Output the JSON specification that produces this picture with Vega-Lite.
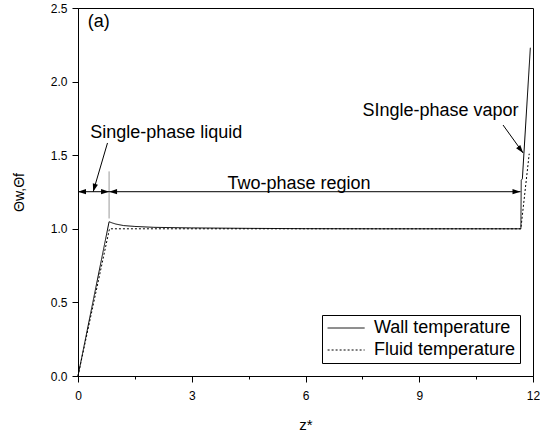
{
  "$schema": "https://vega.github.io/schema/vega-lite/v6.json",
  "width": 455,
  "height": 368,
  "autosize": {"type": "none"},
  "padding": {"left": 78, "top": 8, "right": 7, "bottom": 59},
  "config": {
    "font": "Liberation Sans",
    "view": {"stroke": "#000", "strokeWidth": 1},
    "axis": {
      "grid": false,
      "domainColor": "#000",
      "tickColor": "#000",
      "labelColor": "#000",
      "titleColor": "#000",
      "labelFont": "Liberation Sans",
      "titleFont": "Liberation Sans",
      "labelFontSize": 12,
      "titleFontSize": 14,
      "titleFontWeight": "normal"
    },
    "legend": {"labelFont": "Liberation Sans"}
  },
  "datasets": {
    "curves": [
      {"z": 0.0, "theta": 0.0, "series": "Wall temperature"},
      {"z": 0.82, "theta": 1.048, "series": "Wall temperature"},
      {"z": 0.9, "theta": 1.04, "series": "Wall temperature"},
      {"z": 1.0, "theta": 1.032, "series": "Wall temperature"},
      {"z": 1.2, "theta": 1.022, "series": "Wall temperature"},
      {"z": 1.5, "theta": 1.016, "series": "Wall temperature"},
      {"z": 2.0, "theta": 1.01, "series": "Wall temperature"},
      {"z": 3.0, "theta": 1.006, "series": "Wall temperature"},
      {"z": 4.5, "theta": 1.003, "series": "Wall temperature"},
      {"z": 6.0, "theta": 1.001, "series": "Wall temperature"},
      {"z": 8.0, "theta": 1.0, "series": "Wall temperature"},
      {"z": 11.68, "theta": 1.0, "series": "Wall temperature"},
      {"z": 11.69, "theta": 1.33, "series": "Wall temperature"},
      {"z": 11.72, "theta": 1.34, "series": "Wall temperature"},
      {"z": 11.93, "theta": 2.23, "series": "Wall temperature"},
      {"z": 0.0, "theta": 0.0, "series": "Fluid temperature"},
      {"z": 0.83, "theta": 1.0, "series": "Fluid temperature"},
      {"z": 11.68, "theta": 1.0, "series": "Fluid temperature"},
      {"z": 11.9, "theta": 1.51, "series": "Fluid temperature"}
    ],
    "boundary": [
      {"z": 0.82, "theta": 1.07, "theta2": 1.39}
    ],
    "arrowLines": [
      {"z": 0.0, "theta": 1.252, "z2": 0.82, "theta2": 1.252},
      {"z": 0.82, "theta": 1.252, "z2": 11.67, "theta2": 1.252},
      {"z": 0.778, "theta": 1.583, "z2": 0.40, "theta2": 1.252},
      {"z": 11.21, "theta": 1.705, "z2": 11.74, "theta2": 1.515}
    ],
    "headsLeft": [
      {"z": 0.0, "theta": 1.252},
      {"z": 0.82, "theta": 1.252}
    ],
    "headsRight": [
      {"z": 0.82, "theta": 1.252},
      {"z": 11.67, "theta": 1.252}
    ],
    "headLiquid": [
      {"z": 0.40, "theta": 1.252}
    ],
    "headVapor": [
      {"z": 11.74, "theta": 1.515}
    ],
    "labelsLeft": [
      {"z": 0.26, "theta": 2.405, "text": "(a)"},
      {"z": 0.32, "theta": 1.65, "text": "Single-phase liquid"}
    ],
    "labelsCenter": [
      {"z": 5.83, "theta": 1.304, "text": "Two-phase region"}
    ],
    "labelsRight": [
      {"z": 11.62, "theta": 1.80, "text": "SIngle-phase vapor"}
    ]
  },
  "layer": [
    {
      "data": {"name": "curves"},
      "mark": {"type": "line", "color": "#000", "strokeWidth": 1},
      "encoding": {
        "x": {
          "field": "z",
          "type": "quantitative",
          "title": "z*",
          "scale": {"domain": [0, 12], "nice": false, "zero": false},
          "axis": {
            "values": [0, 1.5, 3, 4.5, 6, 7.5, 9, 10.5, 12],
            "format": "d",
            "labelExpr": "datum.value % 3 == 0 ? datum.label : ''",
            "tickSize": {"condition": {"test": "datum.value % 3 != 0", "value": 3}, "value": 6},
            "labelPadding": 8,
            "titlePadding": 16,
            "titleFontSize": 15,
            "labelFlush": false,
            "labelOverlap": false
          }
        },
        "y": {
          "field": "theta",
          "type": "quantitative",
          "title": "Θw,Θf",
          "scale": {"domain": [0, 2.5], "nice": false, "zero": false},
          "axis": {
            "values": [0, 0.25, 0.5, 0.75, 1, 1.25, 1.5, 1.75, 2, 2.25, 2.5],
            "format": ".1f",
            "labelExpr": "round(datum.value * 4) % 2 == 0 ? datum.label : ''",
            "tickSize": {"condition": {"test": "round(datum.value * 4) % 2 == 1", "value": 3}, "value": 6},
            "labelPadding": 5,
            "titlePadding": 24,
            "labelFlush": false,
            "labelOverlap": false
          }
        },
        "strokeDash": {
          "field": "series",
          "type": "nominal",
          "scale": {
            "domain": ["Wall temperature", "Fluid temperature"],
            "range": [[1, 0], [2, 2]]
          },
          "legend": {
            "title": null,
            "orient": "bottom-right",
            "offset": 13,
            "strokeColor": "#000",
            "fillColor": "#fff",
            "padding": 4,
            "rowPadding": 4,
            "symbolType": "M-1,0L4,0",
            "symbolSize": 219,
            "symbolStrokeColor": "#000",
            "symbolStrokeWidth": 1,
            "labelFontSize": 18,
            "labelColor": "#000",
            "labelOffset": 30
          }
        }
      }
    },
    {
      "data": {"name": "boundary"},
      "mark": {"type": "rule", "color": "#999", "strokeWidth": 1},
      "encoding": {
        "x": {"field": "z", "type": "quantitative"},
        "y": {"field": "theta", "type": "quantitative"},
        "y2": {"field": "theta2"}
      }
    },
    {
      "data": {"name": "arrowLines"},
      "mark": {"type": "rule", "color": "#000", "strokeWidth": 1},
      "encoding": {
        "x": {"field": "z", "type": "quantitative"},
        "y": {"field": "theta", "type": "quantitative"},
        "x2": {"field": "z2"},
        "y2": {"field": "theta2"}
      }
    },
    {
      "data": {"name": "headsLeft"},
      "mark": {"type": "point", "shape": "M0,0L1,-0.33L1,0.33Z", "size": 256, "filled": true, "color": "#000", "opacity": 1, "strokeWidth": 0},
      "encoding": {
        "x": {"field": "z", "type": "quantitative"},
        "y": {"field": "theta", "type": "quantitative"}
      }
    },
    {
      "data": {"name": "headsRight"},
      "mark": {"type": "point", "shape": "M0,0L-1,-0.33L-1,0.33Z", "size": 256, "filled": true, "color": "#000", "opacity": 1, "strokeWidth": 0},
      "encoding": {
        "x": {"field": "z", "type": "quantitative"},
        "y": {"field": "theta", "type": "quantitative"}
      }
    },
    {
      "data": {"name": "headLiquid"},
      "mark": {"type": "point", "shape": "M0,0L-0.33,-1L0.33,-1Z", "size": 256, "angle": 16, "filled": true, "color": "#000", "opacity": 1, "strokeWidth": 0},
      "encoding": {
        "x": {"field": "z", "type": "quantitative"},
        "y": {"field": "theta", "type": "quantitative"}
      }
    },
    {
      "data": {"name": "headVapor"},
      "mark": {"type": "point", "shape": "M0,0L-0.33,-1L0.33,-1Z", "size": 256, "angle": -38, "filled": true, "color": "#000", "opacity": 1, "strokeWidth": 0},
      "encoding": {
        "x": {"field": "z", "type": "quantitative"},
        "y": {"field": "theta", "type": "quantitative"}
      }
    },
    {
      "data": {"name": "labelsLeft"},
      "mark": {"type": "text", "align": "left", "baseline": "middle", "fontSize": 18, "color": "#000"},
      "encoding": {
        "x": {"field": "z", "type": "quantitative"},
        "y": {"field": "theta", "type": "quantitative"},
        "text": {"field": "text"}
      }
    },
    {
      "data": {"name": "labelsCenter"},
      "mark": {"type": "text", "align": "center", "baseline": "middle", "fontSize": 18, "color": "#000"},
      "encoding": {
        "x": {"field": "z", "type": "quantitative"},
        "y": {"field": "theta", "type": "quantitative"},
        "text": {"field": "text"}
      }
    },
    {
      "data": {"name": "labelsRight"},
      "mark": {"type": "text", "align": "right", "baseline": "middle", "fontSize": 18, "color": "#000"},
      "encoding": {
        "x": {"field": "z", "type": "quantitative"},
        "y": {"field": "theta", "type": "quantitative"},
        "text": {"field": "text"}
      }
    }
  ]
}
